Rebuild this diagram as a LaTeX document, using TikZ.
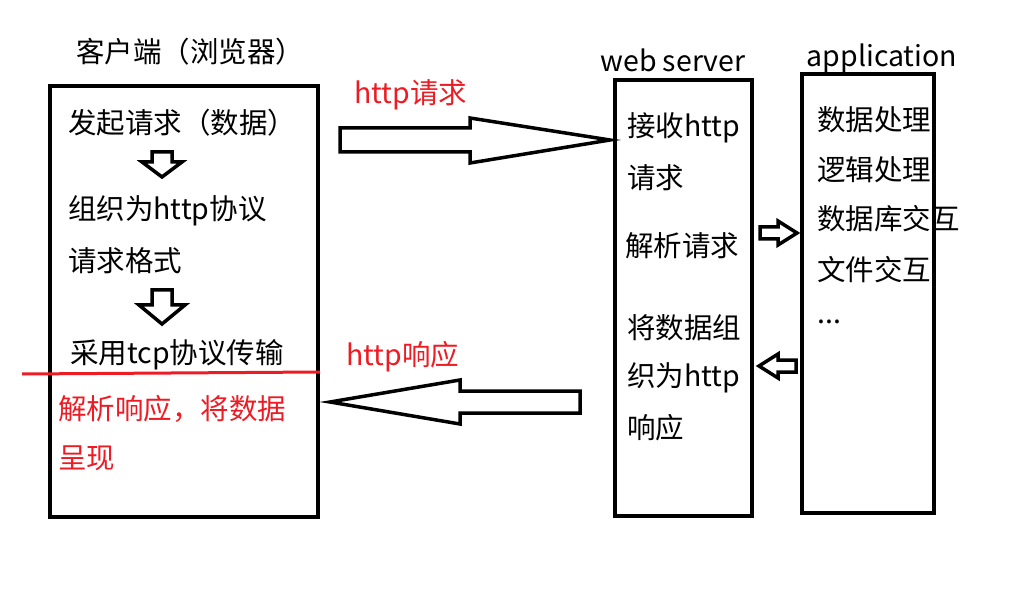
\documentclass[tikz,border=0pt]{standalone}
\usepackage{fontspec}
\setmainfont{Noto Sans CJK SC}
\begin{document}
\begin{tikzpicture}[x=1pt,y=-1pt,
 box/.style={line width=4pt,draw=black},
 harrow/.style={line width=3.5pt,draw=black,line join=miter},
 t/.style={anchor=west,inner sep=0pt,font=\fontsize{28.5}{32}\selectfont},
 r/.style={t,text={rgb,255:red,237;green,28;blue,36}}]
\useasboundingbox (0,0) rectangle (1018,604);
\draw[box] (50,86) rectangle (318,517);
\draw[box] (615,80) rectangle (752,516);
\draw[box] (802,74) rectangle (934,513);
\node[t,anchor=center] (h1) at (190,52) {客户端（浏览器）};
\node[t,anchor=center] (h2) at (673,60) {web server};
\node[t,anchor=center] (h3) at (882,58) {application};
\node[t] (c1) at (68,123) {发起请求（数据）};
\node[t] (c2) at (68,211) {组织为http协议};
\node[t] (c3) at (68,261) {请求格式};
\node[t] (c4) at (70,355) {采用tcp协议传输};
\draw[line width=3pt,draw={rgb,255:red,237;green,28;blue,36}] (22,374) -- (320,372);
\node[r] (c5) at (58,409) {解析响应，将数据};
\node[r] (c6) at (58,458) {呈现};
\node[r] (l1) at (354,95) {http请求};
\node[r] (l2) at (346,357) {http响应};
\node[t] (w1) at (627,128) {接收http};
\node[t] (w2) at (627,178) {请求};
\node[t] (w3) at (625,246) {解析请求};
\node[t] (w4) at (627,328) {将数据组};
\node[t] (w5) at (627,378) {织为http};
\node[t] (w6) at (627,428) {响应};
\node[t] (a1) at (817,120) {数据处理};
\node[t] (a2) at (817,170) {逻辑处理};
\node[t] (a3) at (817,219) {数据库交互};
\node[t] (a4) at (817,270) {文件交互};
\node[t] (a5) at (817,322) {...};
% small down arrows
\draw[harrow] (152,152)--(172,152)--(172,162)--(182,162)--(162,177)--(142,162)--(152,162)--cycle;
\draw[harrow] (152,290)--(172,290)--(172,305)--(185,305)--(162,324)--(139,305)--(152,305)--cycle;
% big right arrow
\draw[harrow] (340,128)--(470,128)--(470,118)--(610,140)--(470,163)--(470,152)--(340,152)--cycle;
% big left arrow
\draw[harrow] (580,391)--(460,391)--(460,380)--(330,402)--(460,424)--(460,413)--(580,413)--cycle;
% small right arrow
\draw[harrow] (760,227)--(778,227)--(778,221)--(797,233)--(778,245)--(778,239)--(760,239)--cycle;
% small left arrow
\draw[harrow] (796,360)--(778,360)--(778,354)--(759,366)--(778,378)--(778,372)--(796,372)--cycle;
\end{tikzpicture}
\end{document}
